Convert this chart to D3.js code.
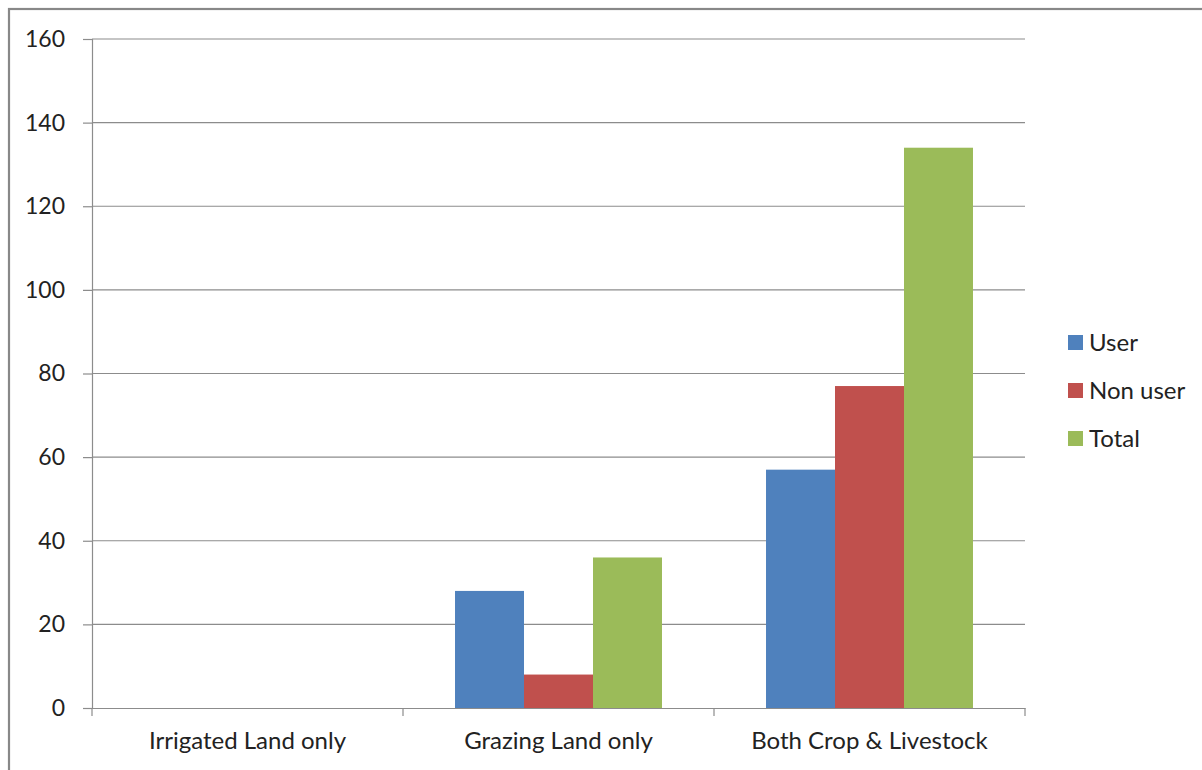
<!DOCTYPE html>
<html>
<head>
<meta charset="utf-8">
<script src="https://cdn.jsdelivr.net/npm/d3@7"></script>
<style>
  html, body { margin: 0; padding: 0; background: #fff; }
  svg { display: block; }
  text { font-family: Lato, "Open Sans", "Liberation Sans", sans-serif; fill: #222; }
</style>
</head>
<body>
<svg id="chart" width="1202" height="770"></svg>
<script>
const categories = ["Irrigated Land only", "Grazing Land only", "Both Crop & Livestock"];
const seriesNames = ["User", "Non user", "Total"];
const userValues = [0, 28, 57];
const nonUserValues = [0, 8, 77];
const totalValues = [0, 36, 134];
const yTicks = [0, 20, 40, 60, 80, 100, 120, 140, 160];
const colors = ["#4F81BD", "#C0504D", "#9BBB59"];

const seriesValues = [userValues, nonUserValues, totalValues];

const svg = d3.select("#chart");

// outer frame
svg.append("rect")
  .attr("x", 9).attr("y", 9)
  .attr("width", 1202).attr("height", 770)
  .attr("fill", "none")
  .attr("stroke", "#888").attr("stroke-width", 2.2);

const plot = { left: 92, right: 1025, top: 39, bottom: 708 };

const x = d3.scaleBand()
  .domain(categories)
  .range([plot.left, plot.right])
  .paddingInner(0).paddingOuter(0);

const xInner = d3.scaleBand()
  .domain(seriesNames)
  .range([0, x.bandwidth()])
  .paddingInner(0)
  .paddingOuter(0.754);

const y = d3.scaleLinear()
  .domain([0, 160])
  .range([plot.bottom, plot.top]);

// horizontal gridlines
svg.append("g")
  .selectAll("line")
  .data(yTicks.filter(d => d > 0))
  .join("line")
  .attr("x1", plot.left).attr("x2", plot.right)
  .attr("y1", d => y(d)).attr("y2", d => y(d))
  .attr("stroke", "#8c8c8c").attr("stroke-width", 1.2);

// y axis
const yAxis = svg.append("g")
  .attr("transform", `translate(${plot.left},0)`)
  .call(d3.axisLeft(y).tickValues(yTicks).tickSize(9).tickPadding(8));
yAxis.select(".domain").attr("stroke", "#8c8c8c").attr("stroke-width", 1.2);
yAxis.selectAll(".tick line").attr("stroke", "#8c8c8c").attr("stroke-width", 1.2);
yAxis.selectAll(".tick text")
  .attr("font-size", 23)
  .attr("fill", "#1a1a1a")
  .attr("font-family", "Lato, 'Open Sans', sans-serif")
  .attr("x", -27);

// bars
const groups = svg.append("g")
  .selectAll("g")
  .data(categories)
  .join("g")
  .attr("transform", d => `translate(${x(d)},0)`);

groups.selectAll("rect")
  .data((d, i) => seriesNames.map((s, j) => ({ s, v: seriesValues[j][i], j })))
  .join("rect")
  .filter(d => d.v > 0)
  .attr("x", d => xInner(d.s))
  .attr("width", xInner.bandwidth())
  .attr("y", d => y(d.v))
  .attr("height", d => y(0) - y(d.v))
  .attr("fill", d => colors[d.j]);

// x axis
const xAxis = svg.append("g")
  .attr("transform", `translate(0,${plot.bottom})`)
  .call(d3.axisBottom(x).tickSize(0).tickPadding(24));
xAxis.select(".domain").attr("stroke", "#8c8c8c").attr("stroke-width", 1.2);
xAxis.selectAll(".tick text")
  .attr("font-size", 24)
  .attr("fill", "#1a1a1a")
  .attr("font-family", "Lato, 'Open Sans', sans-serif");

// category separator ticks
const sepPositions = categories.map(c => x(c)).concat([x(categories[categories.length - 1]) + x.bandwidth()]);
svg.append("g")
  .selectAll("line")
  .data(sepPositions)
  .join("line")
  .attr("x1", d => d).attr("x2", d => d)
  .attr("y1", plot.bottom).attr("y2", plot.bottom + 8)
  .attr("stroke", "#8c8c8c").attr("stroke-width", 1.2);

// legend
const legend = svg.append("g")
  .attr("transform", "translate(1068,343)");
const items = legend.selectAll("g")
  .data(seriesNames)
  .join("g")
  .attr("transform", (d, i) => `translate(0,${i * 48})`);
items.append("rect")
  .attr("x", 0).attr("y", -8)
  .attr("width", 15).attr("height", 15)
  .attr("fill", (d, i) => colors[i]);
items.append("text")
  .attr("x", 21).attr("y", 0)
  .attr("dy", "0.35em")
  .attr("font-size", 24)
  .attr("fill", "#1a1a1a")
  .text(d => d);
</script>
</body>
</html>
